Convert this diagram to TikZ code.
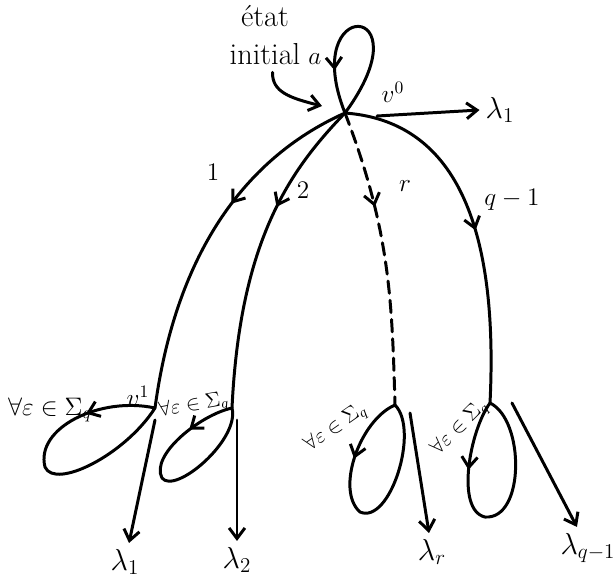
\documentclass[tikz,border=0pt]{standalone}
\usepackage{tikz}
\usetikzlibrary{arrows.meta,decorations.markings,calc}
\definecolor{tinta}{HTML}{000000}

\begin{document}
\begin{tikzpicture}[
  x=0.02cm, y=-0.02cm,
  >={Straight Barb[length=6pt,width=9pt]},
  trazo/.style={draw=tinta, line width=1.7pt, line cap=round, line join=round},
  flechamedio/.style={postaction={decorate, decoration={markings, mark=at position #1 with {\arrow{>}}}}},
  etiq/.style={font=\Large, text=tinta},
  lam/.style={font=\LARGE, text=tinta},
]
  \useasboundingbox (0,0) rectangle (616,583);

  % Estados
  \coordinate (v0) at (345,113);
  \coordinate (v1) at (155,408);
  \coordinate (v2) at (232,408);
  \coordinate (vr) at (395,405);
  \coordinate (vq) at (490,403);

  % Estado inicial
  \node[etiq, font=\LARGE, align=center, inner sep=0pt] (ini) at (265,35) {état\\initial};
  \coordinate (inifin) at (322,106);
  \draw[trazo, ->] ([xshift=-16pt,yshift=-4pt]ini.south east)
    .. controls (272,92) and (290,98) .. (inifin);

  % Lazo en v0
  \draw[trazo, flechamedio=0.78] (v0) .. controls (428,0) and (298,-5) .. (v0);
  \node[etiq] (a) at (315,59) {$a$};
  \node[etiq] (v0lab) at (393,92) {$v^0$};

  % Salida de v0
  \node[lam] (l0) at (500,110) {$\lambda_1$};
  \draw[trazo, ->] ($(v0)+(32,3)$) -- (l0.west);

  % Transiciones desde v0
  \draw[trazo, flechamedio=0.4] (v0) .. controls (240,160) and (175,260) .. (v1);
  \node[etiq] (e1) at (213,172) {1};
  \draw[trazo, flechamedio=0.36] (v0) .. controls (290,170) and (240,240) .. (v2);
  \node[etiq] (e2) at (303,190) {2};
  \draw[trazo, dash pattern=on 7pt off 4pt, flechamedio=0.33] (v0) .. controls (390,230) and (392,300) .. (vr);
  \node[etiq] (er) at (405,186) {$r$};
  \draw[trazo, flechamedio=0.52] (v0) .. controls (440,120) and (500,200) .. (vq);
  \node[etiq] (eq) at (512,200) {$q-1$};

  % Lazos inferiores
  \draw[trazo, flechamedio=0.25] (v1) .. controls (100,396) and (35,428) .. (45,467)
    .. controls (55,490) and (125,455) .. (v1);
  \node[etiq] (v1lab) at (138,396) {$v^1$};
  \node[etiq] (s1) at (50,410) {$\forall\varepsilon\in\Sigma_q$};

  \draw[trazo, flechamedio=0.22] (v2) .. controls (200,415) and (150,455) .. (162,478)
    .. controls (175,495) and (240,440) .. (v2);
  \node[etiq, font=\large, rotate=10] (s2) at (194,406) {$\forall\varepsilon\in\Sigma_q$};

  \draw[trazo, flechamedio=0.27] (vr) .. controls (360,420) and (335,490) .. (360,512)
    .. controls (390,525) and (420,430) .. (vr);
  \node[etiq, font=\large, rotate=35] (sr) at (336,428) {$\forall\varepsilon\in\Sigma_q$};

  \draw[trazo, flechamedio=0.27] (vq) .. controls (470,430) and (455,510) .. (485,517)
    .. controls (525,520) and (525,420) .. (vq);
  \node[etiq, font=\large, rotate=45] (sq) at (460,428) {$\forall\varepsilon\in\Sigma_q$};

  % Salidas
  \node[lam] (l1) at (125,562) {$\lambda_1$};
  \node[lam] (l2) at (237,560) {$\lambda_2$};
  \node[lam] (lr) at (432,552) {$\lambda_r$};
  \node[lam] (lq) at (588,548) {$\lambda_{q-1}$};
  \draw[trazo, ->] ($(v1)+(0,12)$) -- (l1);
  \draw[trazo, ->] ($(v2)+(5,12)$) -- (l2);
  \draw[trazo, ->] ($(vr)+(15,8)$) -- (lr);
  \draw[trazo, ->] ($(vq)+(22,0)$) -- (lq);
\end{tikzpicture}
\end{document}
